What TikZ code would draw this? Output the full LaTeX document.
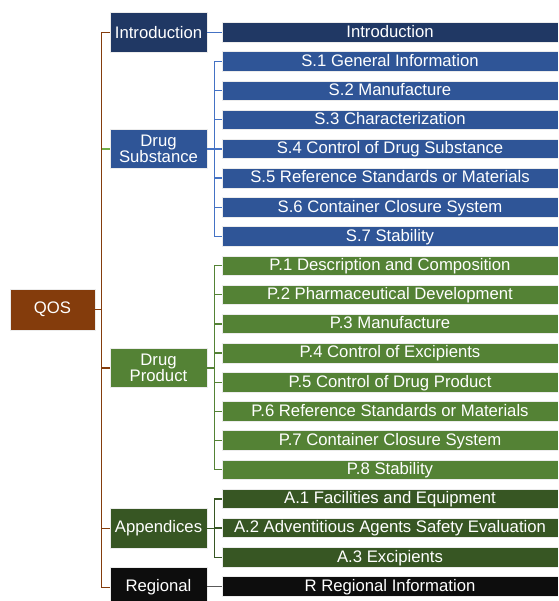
\documentclass[tikz,border=0pt]{standalone}
\usepackage{fontspec}
\setmainfont{Liberation Sans}
\definecolor{qosbrown}{HTML}{843C0C}
\definecolor{navy}{HTML}{203864}
\definecolor{dsblue}{HTML}{2F5597}
\definecolor{lineblue}{HTML}{4472C4}
\definecolor{dpgreen}{HTML}{548235}
\definecolor{appgreen}{HTML}{375623}
\definecolor{ltgreen}{HTML}{70AD47}
\definecolor{regblack}{HTML}{0D0D0D}
\definecolor{reggray}{HTML}{595959}
\begin{document}
\begin{tikzpicture}[x=1pt,y=-1pt,
  box/.style={draw=white!85!gray,line width=0.6pt,text=white,inner sep=0pt,
    align=center,font=\fontsize{16.7}{16}\selectfont},
  root/.style={box,minimum width=85pt,minimum height=41pt},
  sect/.style={box,minimum width=97pt,minimum height=39.5pt},
  item/.style={box,minimum width=336pt,minimum height=19.5pt,
    text height=12.5pt,text depth=2.7pt},
  link/.style={line width=1.3pt}]
\clip (0,0) rectangle (558,601);

% root
\node[root,fill=qosbrown] (qos) at (52.5,309.5) {QOS};

% sections
\node[sect,fill=navy] (intro) at (158.5,32.3) {Introduction};
\node[sect,fill=dsblue] (ds) at (158.5,149) {Drug\\Substance};
\node[sect,fill=dpgreen] (dp) at (158.5,368) {Drug\\Product};
\node[sect,fill=appgreen] (app) at (158.5,528.5) {\raisebox{-1pt}{Appendices}};
\node[sect,fill=regblack] (reg) at (158.5,587.3) {Regional};

% items
\def\pitch{29.16}
\foreach \n/\i/\c/\t in {
  i0/0/navy/Introduction,
  s1/1/dsblue/S.1 General Information,
  s2/2/dsblue/S.2 Manufacture,
  s3/3/dsblue/S.3 Characterization,
  s4/4/dsblue/S.4 Control of Drug Substance,
  s5/5/dsblue/S.5 Reference Standards or Materials,
  s6/6/dsblue/S.6 Container Closure System,
  s7/7/dsblue/S.7 Stability,
  p1/8/dpgreen/P.1 Description and Composition,
  p2/9/dpgreen/P.2 Pharmaceutical Development,
  p3/10/dpgreen/P.3 Manufacture,
  p4/11/dpgreen/P.4 Control of Excipients,
  p5/12/dpgreen/P.5 Control of Drug Product,
  p6/13/dpgreen/P.6 Reference Standards or Materials,
  p7/14/dpgreen/P.7 Container Closure System,
  p8/15/dpgreen/P.8 Stability,
  a1/16/appgreen/A.1 Facilities and Equipment,
  a2/17/appgreen/A.2 Adventitious Agents Safety Evaluation,
  a3/18/appgreen/A.3 Excipients,
  r0/19/regblack/R Regional Information}
  \node[item,fill=\c] (\n) at (390,32.3+\i*\pitch) {\t};

% trunk from the root to the sections
\draw[link,qosbrown] (qos.east) -- ++(7,0);
\draw[link,qosbrown] (intro.west) -- ++(-8,0) |- (reg.west);
\draw[link,ltgreen] (ds.west) -- ++(-8,0);
\draw[link,qosbrown] (dp.west) -- ++(-8,0);
\draw[link,qosbrown] (app.west) -- ++(-8,0);

% introduction
\draw[link,lineblue] (intro.east) -- (i0.west);

% drug substance bracket
\draw[link,lineblue] (ds.east) -- ++(8,0);
\draw[link,lineblue] (s1.west) -- ++(-7,0) |- (s7.west);
\foreach \n in {s2,s3,s4,s5,s6}
  \draw[link,lineblue] (\n.west) -- ++(-7,0);

% drug product bracket
\draw[link,dpgreen] (dp.east) -- ++(8,0);
\draw[link,dpgreen] (p1.west) -- ++(-7,0) |- (p8.west);
\foreach \n in {p2,p3,p4,p5,p6,p7}
  \draw[link,dpgreen] (\n.west) -- ++(-7,0);

% appendices bracket
\draw[link,appgreen] (app.east) -- ++(8,0);
\draw[link,appgreen] (a1.west) -- ++(-7,0) |- (a3.west);
\draw[link,appgreen] (a2.west) -- ++(-7,0);

% regional
\draw[link,reggray] (reg.east |- r0.west) -- (r0.west);
\end{tikzpicture}
\end{document}
